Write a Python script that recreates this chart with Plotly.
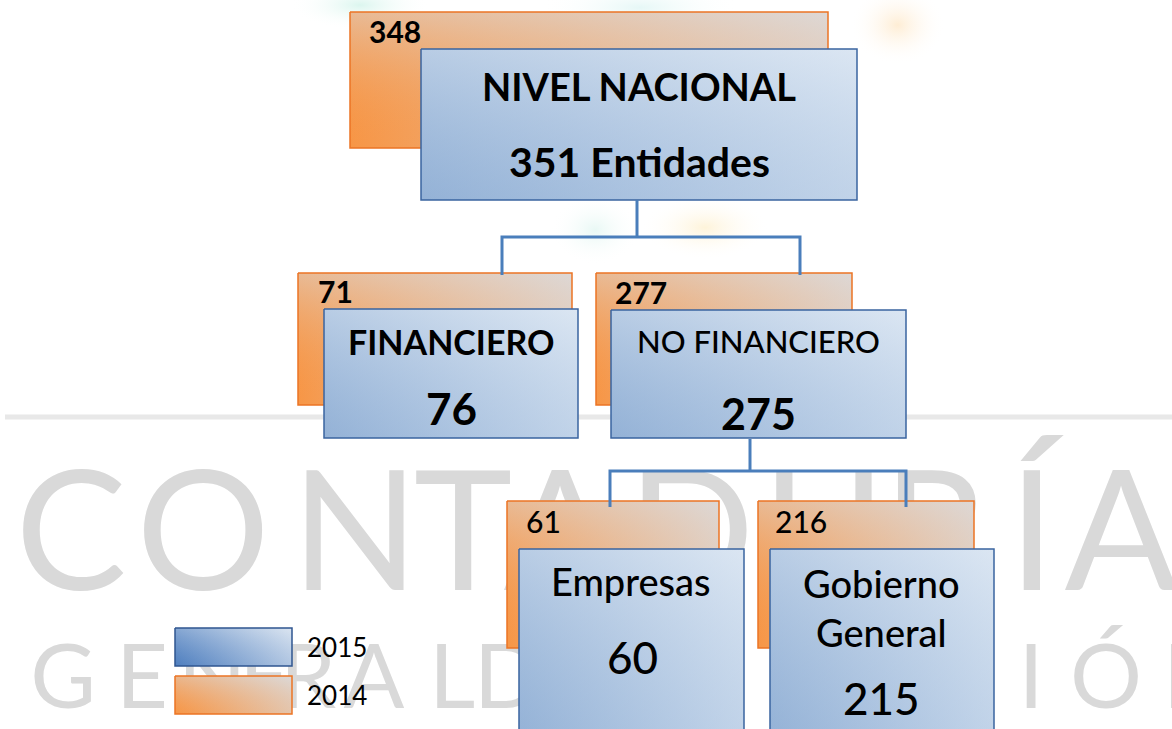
import plotly.graph_objects as go

# ---------------- data ----------------
nodes = ["NIVEL NACIONAL", "FINANCIERO", "NO FINANCIERO", "Empresas", "Gobierno General"]
values_2015 = [351, 76, 275, 60, 215]
values_2014 = [348, 71, 277, 61, 216]
years = ["2015", "2014"]
watermark_row1 = "CONTADURÍA"
watermark_row2 = "GENERAL DE LA NACIÓN"

# ---------------- layout geometry (pixels) ----------------
W, H = 1172, 729
box14 = [(350, 12, 828, 148), (298, 273, 572, 405), (596, 273, 852, 405),
         (507, 501, 719, 648), (758, 501, 974, 648)]
box15 = [(421, 49, 857, 200), (324, 309, 578, 438), (611, 310, 906, 438),
         (519, 549, 744, 740), (770, 549, 994, 740)]
legend_boxes = [(175, 628, 292, 666), (175, 676, 292, 714)]

# x-centres of watermark letters (spaces skipped)
wm1_x = [71, 203, 355, 463, 560, 691, 824, 935, 1032, 1121]
wm2_x = [63, 142, 212, 265, 308, 374, 452, 508, 568, 650, 712, 800, 872, 945, 1031, 1106, 1197]

FONT = "Lato, 'Open Sans', sans-serif"
BLUE_LINE = "#3a64a0"
ORANGE_LINE = "#ec7424"
CONN = "#4a7ebb"
WM_COLOR = "#d9d9d9"

fig = go.Figure()

# ---- watermark (behind everything) ----
fig.add_trace(go.Scatter(
    x=wm1_x, y=[548] * len(wm1_x), text=list(watermark_row1), mode="text",
    textfont=dict(family=FONT, size=167, color=WM_COLOR, weight=400),
    hoverinfo="skip", showlegend=False))
row2_chars = [c for c in watermark_row2 if c != " "]
fig.add_trace(go.Scatter(
    x=wm2_x, y=[685] * len(wm2_x), text=row2_chars, mode="text",
    textfont=dict(family=FONT, size=90, color=WM_COLOR, weight=400),
    hoverinfo="skip", showlegend=False))

# gray band
fig.add_trace(go.Scatter(x=[5, W], y=[417, 417], mode="lines",
                         line=dict(color="#e8e8e8", width=5),
                         hoverinfo="skip", showlegend=False))

# faint logo remnants (soft radial blobs)
blobs = [((290, -20, 430, 30), "rgba(190,238,225,0.55)"),
         ((540, -20, 740, 35), "rgba(205,240,238,0.5)"),
         ((850, -15, 945, 65), "rgba(253,215,160,0.45)"),
         ((640, 195, 770, 260), "rgba(253,232,180,0.5)"),
         ((550, 195, 640, 265), "rgba(205,240,232,0.45)")]
for (x0, y0, x1, y1), col in blobs:
    fig.add_trace(go.Scatter(x=[x0, x1, x1, x0, x0], y=[y0, y0, y1, y1, y0],
                             mode="lines", fill="toself",
                             fillgradient=dict(type="radial",
                                               colorscale=[[0, col], [1, "rgba(255,255,255,0)"]]),
                             line=dict(width=0), hoverinfo="skip", showlegend=False))


def rect(b, base_scale, overlay_scale, line_color):
    x0, y0, x1, y1 = b
    xs = [x0, x1, x1, x0, x0]
    ys = [y0, y0, y1, y1, y0]
    fig.add_trace(go.Scatter(x=xs, y=ys, mode="lines", fill="toself",
                             fillgradient=dict(type="horizontal", colorscale=base_scale),
                             line=dict(width=0), hoverinfo="skip", showlegend=False))
    fig.add_trace(go.Scatter(x=xs, y=ys, mode="lines", fill="toself",
                             fillgradient=dict(type="vertical", colorscale=overlay_scale),
                             line=dict(color=line_color, width=1.5),
                             hoverinfo="skip", showlegend=False))


orange_base = [[0, "#f79646"], [1, "#ddd8d6"]]
orange_over = [[0, "rgba(247,150,70,0)"], [1, "rgba(221,216,214,0.55)"]]
blue_base = [[0, "#93b1d6"], [1, "#d8e4f2"]]
blue_over = [[0, "rgba(149,179,215,0.35)"], [1, "rgba(222,232,243,0.5)"]]

# 2014 boxes (back), 2015 boxes (front)
for b in box14:
    rect(b, orange_base, orange_over, ORANGE_LINE)
for b in box15:
    rect(b, blue_base, blue_over, BLUE_LINE)

# legend boxes
rect(legend_boxes[0], [[0, "#4f7fbf"], [1, "#dbe5f1"]],
     [[0, "rgba(79,127,191,0.3)"], [1, "rgba(219,229,241,0.4)"]], "#2f5590")
rect(legend_boxes[1], [[0, "#f79646"], [1, "#dcd9d8"]],
     [[0, "rgba(247,150,70,0.3)"], [1, "rgba(220,217,216,0.5)"]], ORANGE_LINE)

# connectors
for xs, ys in [([637, 637], [200, 237]), ([502, 502, 800, 800], [275, 237, 237, 275]),
               ([750, 750], [439, 471]), ([610, 610, 906, 906], [507, 471, 471, 507])]:
    fig.add_trace(go.Scatter(x=xs, y=ys, mode="lines", line=dict(color=CONN, width=3),
                             hoverinfo="skip", showlegend=False))

# ---- labels ----
ann = []


def label(x, y, text, size, weight=400, anchor="center"):
    ann.append(dict(x=x, y=y, xref="x", yref="y", text=text, showarrow=False,
                    xanchor=anchor, yanchor="middle",
                    font=dict(family=FONT, size=size, color="black", weight=weight)))


# NIVEL NACIONAL
label(639, 86, nodes[0], 38, 700)
label(639, 161, f"{values_2015[0]} Entidades", 41, 700)
# FINANCIERO
label(451, 341, nodes[1], 34, 700)
label(451, 408, str(values_2015[1]), 44, 700)
# NO FINANCIERO
label(758, 341, nodes[2], 31, 500)
label(758, 413, str(values_2015[2]), 43, 700)
# Empresas
label(631, 581, nodes[3], 38, 500)
label(632, 657, str(values_2015[3]), 44, 500)
# Gobierno General
g1, g2 = nodes[4].split(" ")
label(881, 583, g1, 38, 500)
label(881, 632, g2, 38, 500)
label(881, 698, str(values_2015[4]), 44, 500)

# 2014 values
pos14 = [(367, 31, 700), (316, 291, 700), (613, 292, 700), (524, 521, 500), (773, 521, 500)]
for (x, y, wgt), v in zip(pos14, values_2014):
    label(x, y, str(v), 30, wgt, anchor="left")

# legend text
label(305, 647, years[0], 26, anchor="left")
label(305, 695, years[1], 26, anchor="left")

fig.update_layout(
    width=W, height=H, autosize=False,
    margin=dict(l=0, r=0, t=0, b=0),
    paper_bgcolor="white", plot_bgcolor="white",
    xaxis=dict(range=[0, W], visible=False, fixedrange=True),
    yaxis=dict(range=[H, 0], visible=False, fixedrange=True),
    showlegend=False, hovermode=False,
    annotations=ann,
)

fig.write_html("out.html", config={"displayModeBar": False},
               post_script="document.body.style.margin='0';document.body.style.overflow='hidden';")
